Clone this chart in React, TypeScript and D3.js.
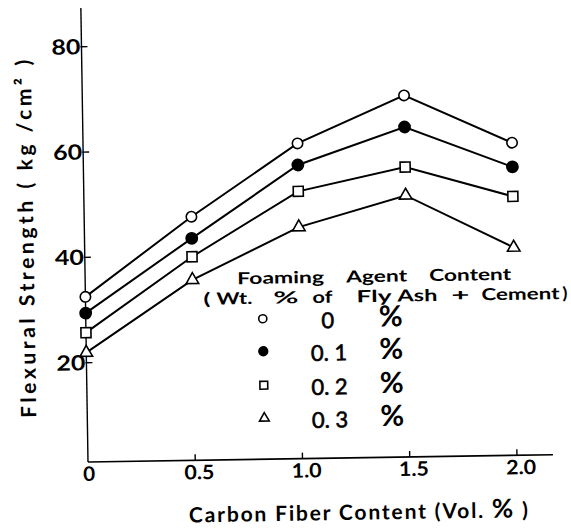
import React from "react";
import * as d3 from "d3";

// ---- data ----
const fiberContent = [0, 0.5, 1.0, 1.5, 2.0];
const agent0 = [32.5, 47.4, 61.0, 69.8, 60.5];
const agent01 = [29.4, 43.3, 56.9, 63.8, 55.9];
const agent02 = [25.7, 39.8, 51.9, 56.2, 50.3];
const agent03 = [21.9, 35.4, 45.1, 50.8, 40.6];
const xTicks = [0, 0.5, 1.0, 1.5, 2.0];
const xTickLabels = ["0", "0.5", "1.0", "1.5", "2.0"];
const yTicks = [20, 40, 60, 80];
const legendLabels = ["0", "0. 1", "0. 2", "0. 3"];
const legendTitle1 = ["Foaming", "Agent", "Content"];
const legendTitle2 = ["(", "Wt.", "%", "of", "Fly", "Ash", "+", "Cement", ")"];
const seriesValues = [agent0, agent01, agent02, agent03];
const seriesMarkers = ["openCircle", "filledCircle", "openSquare", "openTriangle"];

// layout (word positions / widths of the legend title)
const title1X = [240, 349, 432];
const title1W = [87, 61, 82];
const title2X = [206, 219, 276, 315, 359, 400, 454, 484, 565];
const title2W = [7, 36, 25, 20, 35, 40, 18, 78, 5];

const W = 571;
const H = 528;
const FONT = "Lato, 'DejaVu Sans', sans-serif";

function Marker({ kind, x, y, s = 1 }: { kind: string; x: number; y: number; s?: number }) {
  const sw = 1.6;
  if (kind === "openCircle")
    return <circle cx={x} cy={y} r={5.2 * s} fill="#fff" stroke="#000" strokeWidth={sw} />;
  if (kind === "filledCircle")
    return <circle cx={x} cy={y} r={5.6 * s} fill="#000" stroke="#000" strokeWidth={sw} />;
  if (kind === "openSquare") {
    const h = 5 * s;
    return <rect x={x - h} y={y - h} width={2 * h} height={2 * h} fill="#fff" stroke="#000" strokeWidth={sw} />;
  }
  const side = 12.5 * s;
  const area = (side * side * Math.sqrt(3)) / 4;
  const p = d3.symbol().type(d3.symbolTriangle).size(area)();
  return <path d={p || ""} transform={`translate(${x},${y})`} fill="#fff" stroke="#000" strokeWidth={sw} />;
}

export default function App() {
  const x = d3.scaleLinear().domain([0, 2]).range([88, 517]);
  const y = d3.scaleLinear().domain([0, 80]).range([468, 46.7]);
  const plotLeft = 88;
  const plotRight = 553;
  const plotBottom = 462;
  const plotTop = 8;

  const line = d3
    .line<number>()
    .x((_, i) => x(fiberContent[i]))
    .y((d) => y(d));

  const legendRowY = [320, 352.5, 386.5, 419.5];

  return (
    <svg
      width={W}
      height={H}
      viewBox={`0 0 ${W} ${H}`}
      style={{ position: "absolute", left: 0, top: 0, background: "#fff" }}
      fontFamily={FONT}
    >
      <rect x={0} y={0} width={W} height={H} fill="#fff" />
      <g transform={`rotate(-0.9, ${plotLeft}, ${plotBottom})`}>
        {/* axes */}
        <line x1={plotLeft} y1={plotBottom} x2={plotLeft} y2={plotTop} stroke="#000" strokeWidth={1.4} />
        <line x1={plotLeft} y1={plotBottom} x2={plotRight} y2={plotBottom} stroke="#000" strokeWidth={1.6} />
        {yTicks.map((t) => (
          <g key={"yt" + t}>
            <line x1={plotLeft - 1} x2={plotLeft + 6} y1={y(t)} y2={y(t)} stroke="#000" strokeWidth={1.4} />
            <text
              x={plotLeft - 1}
              y={y(t) + 7.5}
              textAnchor="end"
              fontSize={21}
              fontWeight={700}
              textLength={29}
              lengthAdjust="spacingAndGlyphs"
            >
              {t}
            </text>
          </g>
        ))}
        {xTicks.map((t, i) => (
          <g key={"xt" + t}>
            {t > 0 && (
              <line x1={x(t)} x2={x(t)} y1={plotBottom} y2={plotBottom - 6} stroke="#000" strokeWidth={1.4} />
            )}
            <text
              x={x(t) + (t > 0 ? 4 : 1)}
              y={481}
              textAnchor="middle"
              fontSize={20}
              fontWeight={700}
              textLength={t > 0 ? 30 : 12}
              lengthAdjust="spacingAndGlyphs"
            >
              {xTickLabels[i]}
            </text>
          </g>
        ))}

        {/* series */}
        {seriesValues.map((vals, si) => (
          <g key={"s" + si}>
            <path d={line(vals) || ""} fill="none" stroke="#000" strokeWidth={2} />
            {vals.map((v, i) => (
              <Marker key={i} kind={seriesMarkers[si]} x={x(fiberContent[i])} y={y(v)} />
            ))}
          </g>
        ))}

        {/* legend */}
        <g fontWeight={700}>
          {legendTitle1.map((w, i) => (
            <text
              key={"t1" + i}
              x={title1X[i]}
              y={286.5}
              fontSize={16.5}
              textLength={title1W[i]}
              lengthAdjust="spacingAndGlyphs"
            >
              {w}
            </text>
          ))}
          {legendTitle2.map((w, i) => (
            <text
              key={"t2" + i}
              x={title2X[i]}
              y={306.5}
              fontSize={16.5}
              textLength={title2W[i]}
              lengthAdjust="spacingAndGlyphs"
            >
              {w}
            </text>
          ))}
          {legendLabels.map((lab, i) => (
            <g key={"lg" + i}>
              <Marker kind={seriesMarkers[i]} x={265} y={legendRowY[i] + 1.5} s={0.78} />
              <text
                x={i === 0 ? 330 : 312.5}
                y={legendRowY[i] + 12}
                fontSize={22}
                textAnchor={i === 0 ? "middle" : "start"}
                fontWeight={400}
                stroke="#000"
                strokeWidth={0.6}
              >
                {lab}
              </text>
              <text x={381} y={legendRowY[i] + 11} fontSize={29} fontWeight={700}>
                %
              </text>
            </g>
          ))}
        </g>

        {/* axis titles */}
        <text x={188} y={524} fontSize={21} fontWeight={700} textLength={339} lengthAdjust="spacing">
          Carbon Fiber Content (Vol. <tspan fontSize={26}>%</tspan> )
        </text>
        <text
          transform={`translate(37, 417) rotate(-90)`}
          x={0}
          y={0}
          fontSize={21}
          fontWeight={700}
          textLength={358}
          lengthAdjust="spacing"
        >
          Flexural  Strength  ( kg /cm² )
        </text>
      </g>
    </svg>
  );
}
